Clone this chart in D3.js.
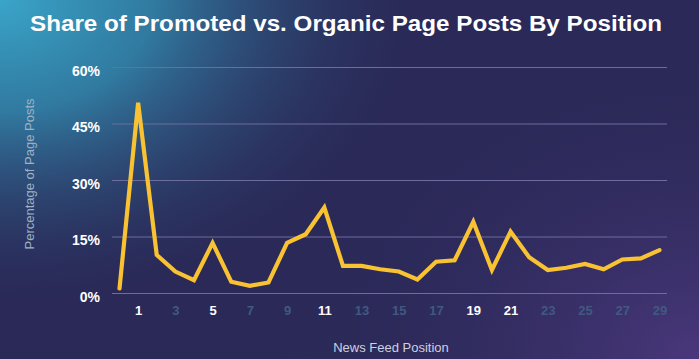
<!DOCTYPE html>
<html><head><meta charset="utf-8">
<script src="https://cdn.jsdelivr.net/npm/d3@7"></script>
<style>html,body{margin:0;padding:0;background:#2a2957;}svg{display:block;}</style>
</head><body>
<svg id="chart" width="699" height="359"></svg>
<script>
const positions = d3.range(0, 30);
const shares = [1.2, 50.5, 10.1, 5.7, 3.4, 13.3, 3.0, 1.9, 2.8, 13.3, 15.6, 22.7, 7.2, 7.2, 6.3, 5.7, 3.6, 8.3, 8.7, 18.9, 6.1, 16.3, 9.5, 6.1, 6.7, 7.7, 6.3, 8.9, 9.2, 11.4];
const yTicks = [0, 15, 30, 45, 60];
const xTicks = [1, 3, 5, 7, 9, 11, 13, 15, 17, 19, 21, 23, 25, 27, 29];
const highlightTicks = [1, 5, 11, 19, 21];
const title = "Share of Promoted vs. Organic Page Posts By Position";

const W = 699, H = 359;
const svg = d3.select("#chart");
const defs = svg.append("defs");
const g1 = defs.append("radialGradient").attr("id","cyan").attr("gradientUnits","userSpaceOnUse")
  .attr("cx",0).attr("cy",0).attr("r",1).attr("gradientTransform","translate(0,0) scale(440,320)");
g1.append("stop").attr("offset","0").attr("stop-color","#3aa5c9").attr("stop-opacity",1);
g1.append("stop").attr("offset","0.35").attr("stop-color","#3288ad").attr("stop-opacity",0.85);
g1.append("stop").attr("offset","1").attr("stop-color","#2a2957").attr("stop-opacity",0);
const g2 = defs.append("radialGradient").attr("id","purp").attr("gradientUnits","userSpaceOnUse")
  .attr("cx",0).attr("cy",0).attr("r",1).attr("gradientTransform","translate(699,359) scale(440,340)");
g2.append("stop").attr("offset","0").attr("stop-color","#4a377c").attr("stop-opacity",1);
g2.append("stop").attr("offset","1").attr("stop-color","#2a2957").attr("stop-opacity",0);

svg.append("rect").attr("width",W).attr("height",H).attr("fill","#2a2957");
svg.append("rect").attr("width",W).attr("height",H).attr("fill","url(#purp)");
svg.append("rect").attr("width",W).attr("height",H).attr("fill","url(#cyan)");

const x = d3.scaleLinear().domain([0, 29]).range([119.5, 659.5]);
const y = d3.scaleLinear().domain([0, 60]).range([293, 67]);

// gridlines
svg.append("g").selectAll("line").data(yTicks).join("line")
  .attr("x1",112).attr("x2",667)
  .attr("y1",d=>y(d)+0.5).attr("y2",d=>y(d)+0.5)
  .attr("stroke","#6d6c9e").attr("stroke-width",1);

// y axis
const yAxis = d3.axisLeft(y).tickValues(yTicks).tickFormat(d=>d+"%").tickSize(0).tickPadding(0);
const ya = svg.append("g").attr("transform","translate(100,3)").call(yAxis);
ya.select(".domain").remove();
ya.selectAll("text").attr("fill","#ffffff").attr("font-family","Liberation Sans, Arial, sans-serif")
  .attr("font-weight","bold").attr("font-size","14px").attr("dy","0.36em");

// x axis
const xAxis = d3.axisBottom(x).tickValues(xTicks).tickFormat(d=>d).tickSize(0).tickPadding(0);
const xa = svg.append("g").attr("transform","translate(0,306)").call(xAxis);
xa.select(".domain").remove();
xa.selectAll("text").attr("fill",d=>highlightTicks.includes(d)?"#ffffff":"#3f5a80")
  .attr("font-family","Liberation Sans, Arial, sans-serif")
  .attr("font-weight","bold").attr("font-size","13px").attr("dy","0.71em");

// line
const line = d3.line().x((d,i)=>x(positions[i])).y(d=>y(d));
svg.append("path").datum(shares).attr("d",line).attr("fill","none")
  .attr("stroke","#f8c232").attr("stroke-width",4.2)
  .attr("stroke-linejoin","miter").attr("stroke-linecap","round");

// title
svg.append("text").attr("x",346).attr("y",31).attr("text-anchor","middle")
  .attr("fill","#ffffff").attr("font-family","Liberation Sans, Arial, sans-serif")
  .attr("font-weight","bold").attr("font-size","22px").attr("textLength",632).attr("lengthAdjust","spacingAndGlyphs")
  .text(title);

// axis titles
svg.append("text").attr("transform","translate(34,174) rotate(-90)").attr("text-anchor","middle")
  .attr("fill","#9fb1c6").attr("font-family","Liberation Sans, Arial, sans-serif")
  .attr("font-size","13px").text("Percentage of Page Posts");
svg.append("text").attr("x",391).attr("y",352).attr("text-anchor","middle")
  .attr("fill","#cfd0e0").attr("font-family","Liberation Sans, Arial, sans-serif")
  .attr("font-size","13px").text("News Feed Position");
</script>
</body></html>
